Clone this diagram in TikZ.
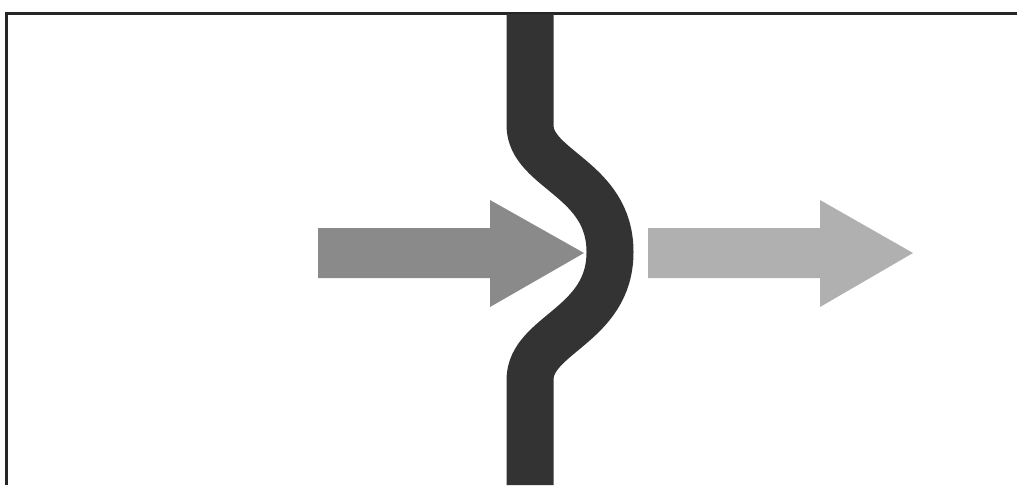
\documentclass[tikz,border=0pt]{standalone}
\usepackage{xcolor}
\usetikzlibrary{calc}
\definecolor{bandgray}{HTML}{333333}
\definecolor{ingray}{HTML}{8A8A8A}
\definecolor{outgray}{HTML}{B0B0B0}
\begin{document}
\begin{tikzpicture}[x=0.02cm, y=-0.02cm,
        frame/.style={draw=black!85, line width=0.06cm},
        band/.style={draw=bandgray, line width=0.94cm},
        flow/.style={fill=#1, draw=none}
    ]
        \useasboundingbox (0,0) rectangle (1017,485);

        % Rahmen (nur oben und links)
        \draw[frame] (1017,13.5) -- (6.5,13.5) -- (6.5,485);

        % Membran mit Ausbuchtung
        \coordinate (top) at (530,14);
        \coordinate (bend1) at (530,125);
        \coordinate (bulge) at (610,252);
        \coordinate (bend2) at (530,380);
        \coordinate (bottom) at (530,485);
        \draw[band] (top) -- (bend1)
            .. controls (530,170) and (610,178) .. (bulge)
            .. controls (610,326) and (530,334) .. (bend2)
            -- (bottom);

        % Pfeil hinein
        \fill[flow=ingray] (318,228) -- (490,228) -- (490,200) -- (584,253)
            -- (490,307) -- (490,278) -- (318,278) -- cycle;

        % Pfeil hinaus
        \fill[flow=outgray] (648,228) -- (820,228) -- (820,200) -- (913,253)
            -- (820,307) -- (820,278) -- (648,278) -- cycle;
    \end{tikzpicture}
\end{document}
